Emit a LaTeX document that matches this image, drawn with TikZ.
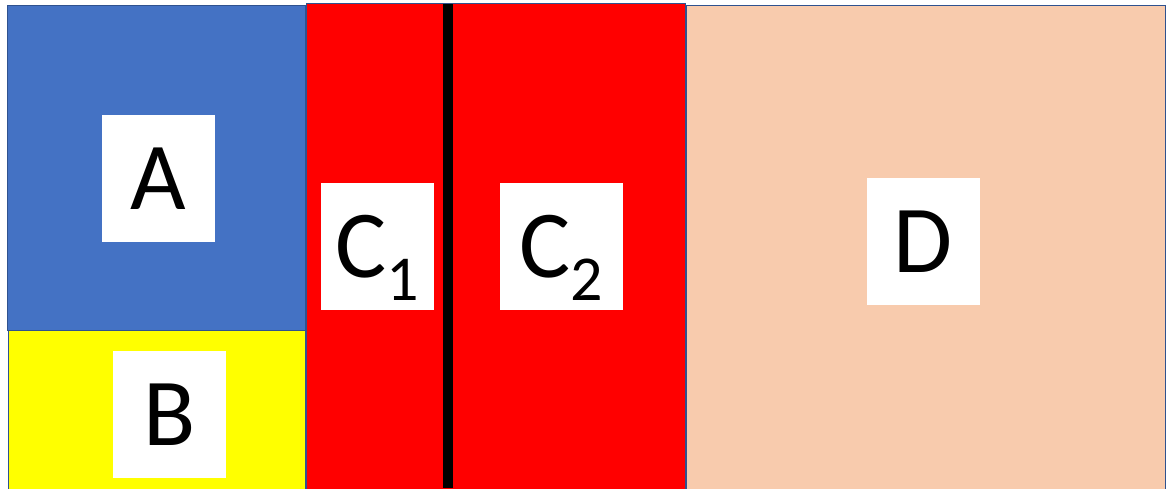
\documentclass[tikz,border=0pt]{standalone}
\usepackage{fontspec}
\setmainfont{Carlito}
\usepackage{tikz}
\usetikzlibrary{positioning}
\definecolor{cBlue}{RGB}{68,114,196}
\definecolor{cEdge}{RGB}{47,82,143}
\definecolor{cYellow}{RGB}{255,255,0}
\definecolor{cRed}{RGB}{255,0,0}
\definecolor{cPeach}{RGB}{248,203,173}
\tikzset{
	region/.style={draw=cEdge, line width=1pt},
	lbl/.style   ={rectangle, fill=white, inner sep=0pt, minimum width=113pt, minimum height=127pt, text centered, font=\fontsize{96}{100}\selectfont},
	wall/.style  ={line width=10pt, black},
}
\newcommand{\subtxt}[1]{\raisebox{-0.24em}[0pt][0pt]{\fontsize{64}{68}\selectfont #1}}

\begin{document}
\begin{tikzpicture}[x=1pt, y=-1pt]
	\useasboundingbox (0,0) rectangle (1176,488);
	% regions
	\draw[region, fill=cBlue]   (7,5)     rectangle (305,330);
	\draw[region, fill=cYellow] (8,330)   rectangle (305,490);
	\draw[region, fill=cRed]    (306,3)   rectangle (685,490);
	\draw[region, fill=cPeach]  (686,5)   rectangle (1165,490);
	% wall between the two C parts
	\coordinate (wtop) at (448,4);
	\coordinate (wbot) at (448,488);
	\draw[wall] (wtop) -- (wbot);
	% labels
	\node[lbl] (a)  at (158.5,178.5) {A};
	\node[lbl] (b)  at (169.5,414.5) {B};
	\node[lbl] (c1) at (377.5,246.5) {C\subtxt{1}};
	\node[lbl, minimum width=123pt] (c2) at (561.5,246.5) {C\subtxt{2}};
	\node[lbl] (d)  at (923.5,241.5) {D};
\end{tikzpicture}
\end{document}
